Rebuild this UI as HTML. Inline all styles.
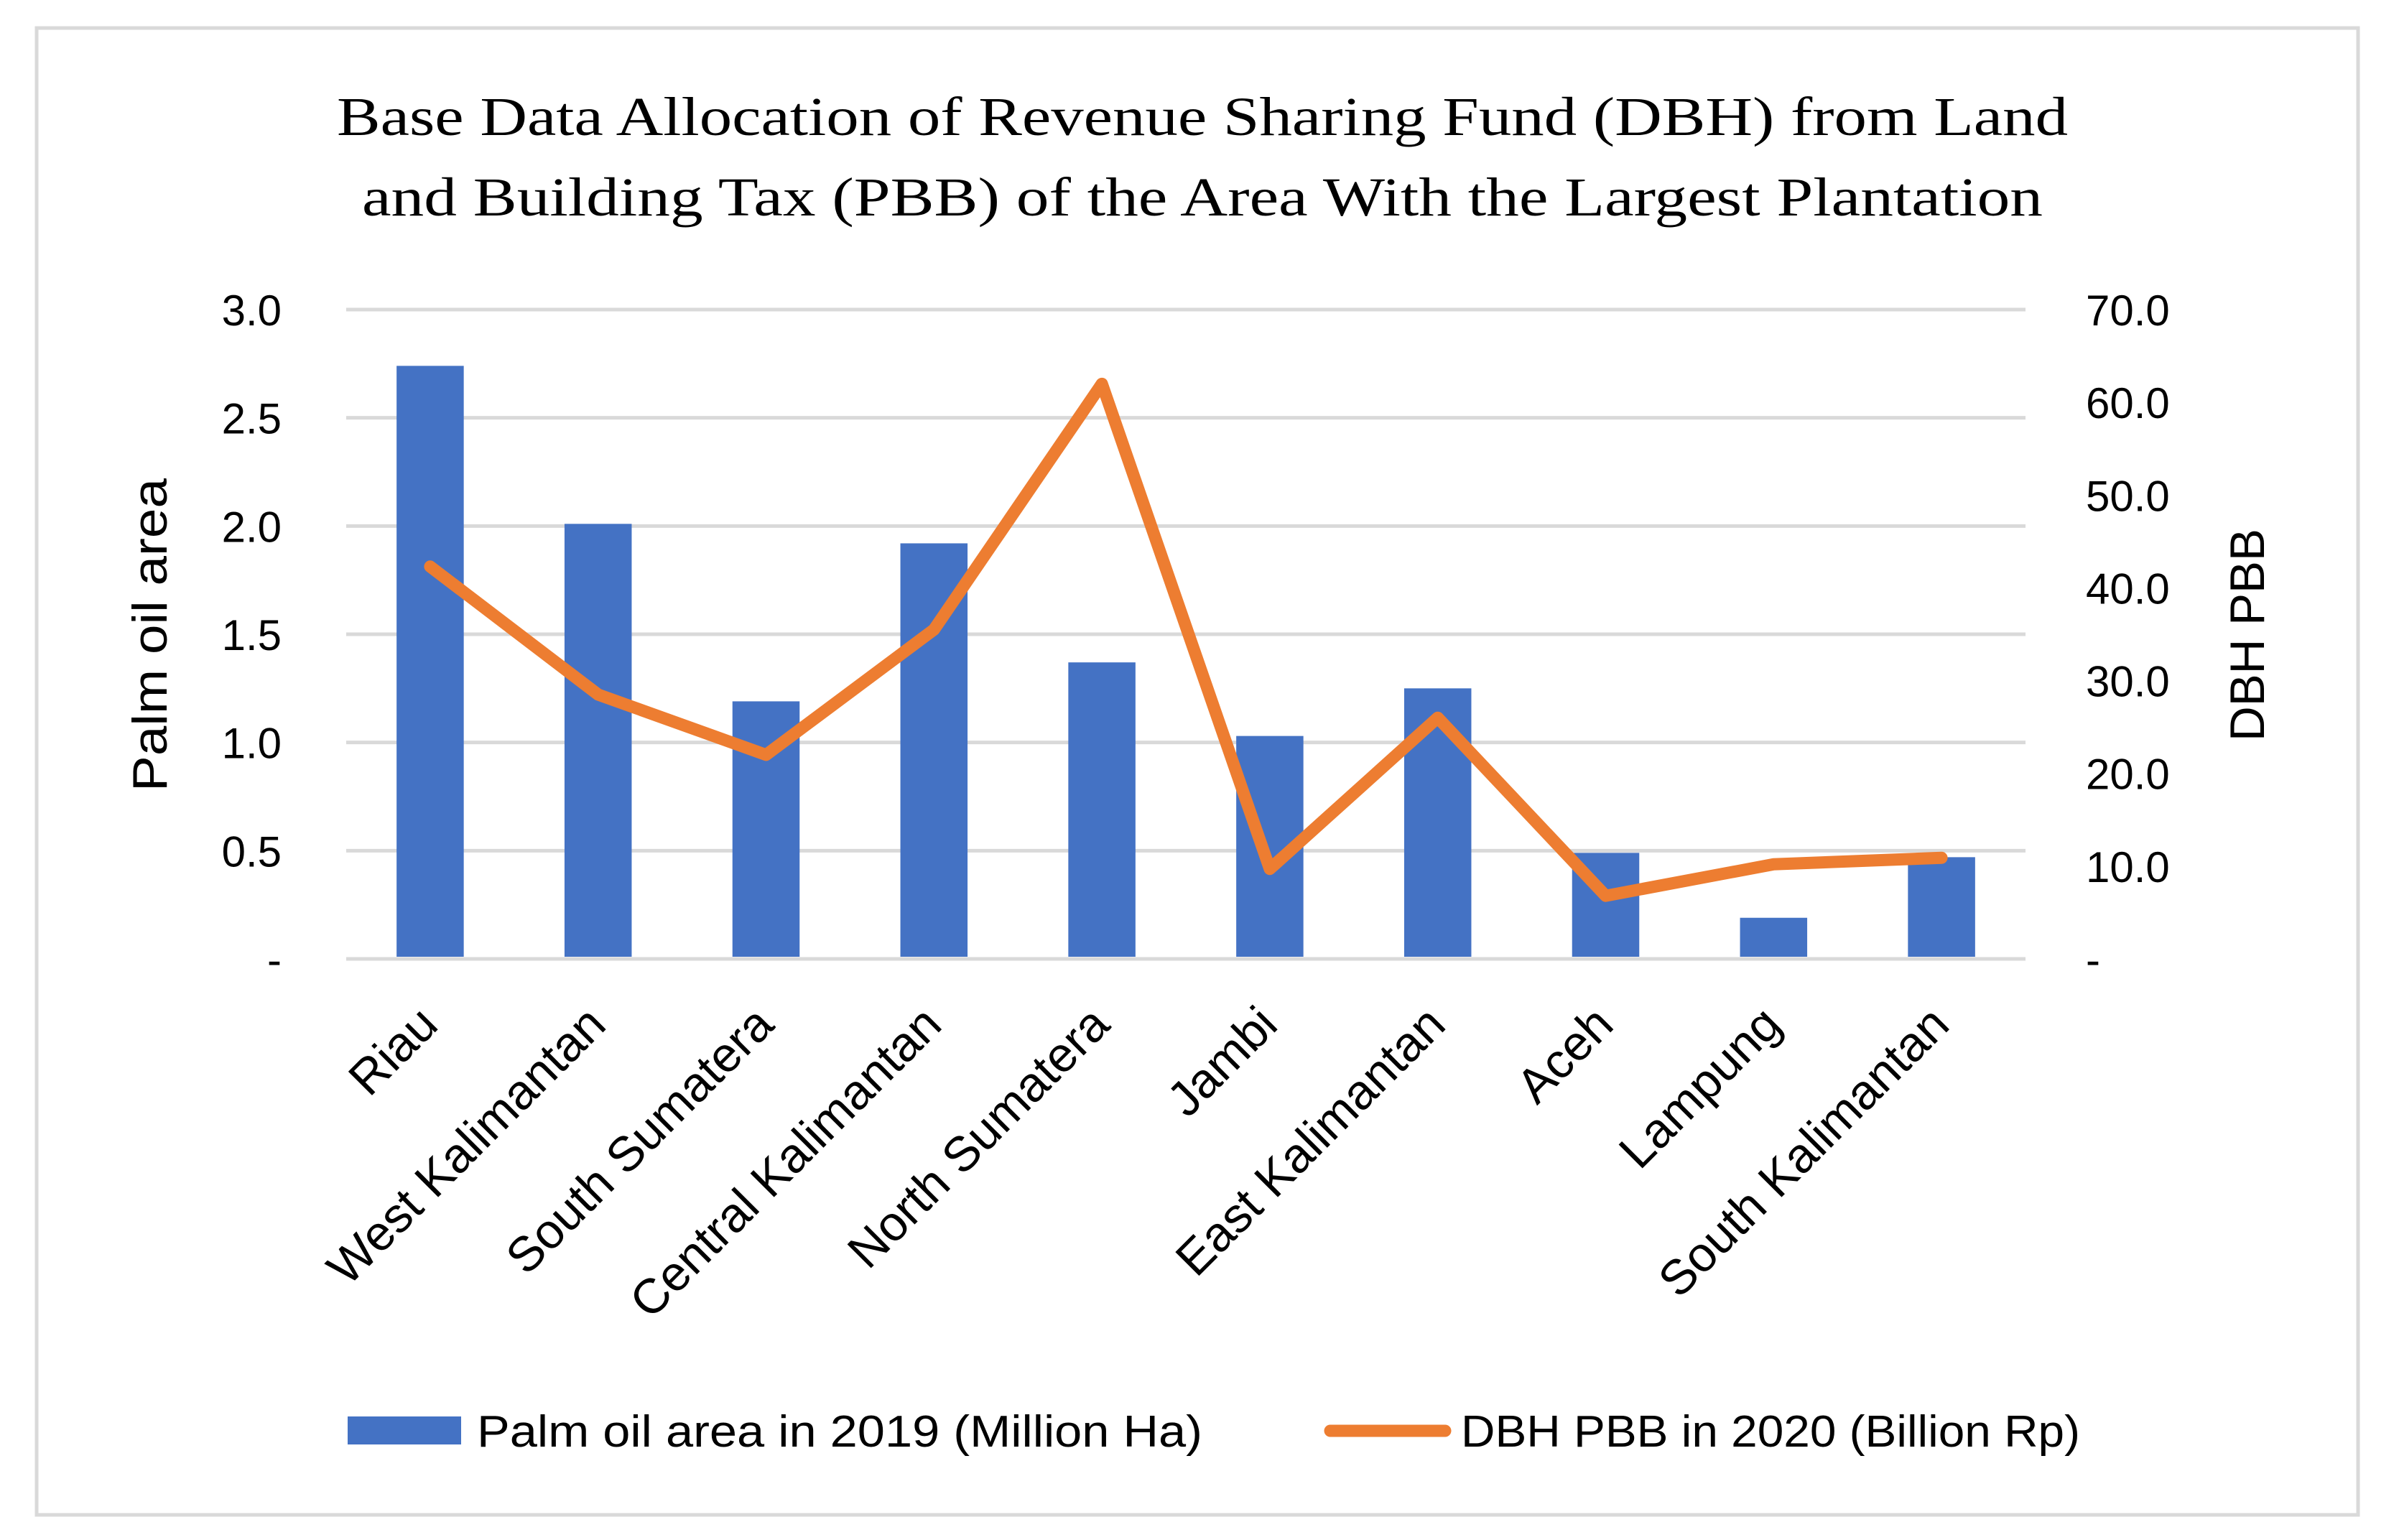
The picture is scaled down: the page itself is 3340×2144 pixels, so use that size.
<!DOCTYPE html>
<html><head><meta charset="utf-8"><style>
html,body{margin:0;padding:0;background:#fff}
svg{display:block}
text{font-family:"Liberation Sans",sans-serif;fill:#000}
</style></head><body>
<svg id="chart" width="3340" height="2144" viewBox="0 0 3340 2144" xmlns="http://www.w3.org/2000/svg">
<rect x="51" y="39" width="3232" height="2070" fill="#fff" stroke="#d9d9d9" stroke-width="5"/>
<text x="1674" y="188" text-anchor="middle" font-size="76" textLength="2410" lengthAdjust="spacingAndGlyphs" style="font-family:'Liberation Serif',serif">Base Data Allocation of Revenue Sharing Fund (DBH) from Land</text>
<text x="1674" y="300" text-anchor="middle" font-size="76" textLength="2340" lengthAdjust="spacingAndGlyphs" style="font-family:'Liberation Serif',serif">and Building Tax (PBB) of the Area With the Largest Plantation</text>
<g id="grid"></g>
<g id="bars"></g>
<g id="line"></g>
<g id="axes"></g>
<text transform="translate(232,884) rotate(-90)" text-anchor="middle" font-size="68" textLength="436" lengthAdjust="spacingAndGlyphs">Palm oil area</text>
<text transform="translate(3152,884) rotate(-90)" text-anchor="middle" font-size="68" textLength="296" lengthAdjust="spacingAndGlyphs">DBH PBB</text>
<g>
<rect x="484" y="1972" width="158" height="39" fill="#4472c4"/>
<text x="664" y="2014" font-size="62" textLength="1010" lengthAdjust="spacingAndGlyphs">Palm oil area in 2019 (Million Ha)</text>
<line x1="1852" y1="1992" x2="2012" y2="1992" stroke="#ed7d31" stroke-width="17" stroke-linecap="round"/>
<text x="2034" y="2014" font-size="62" textLength="862" lengthAdjust="spacingAndGlyphs">DBH PBB in 2020 (Billion Rp)</text>
</g>
</svg>
<script>
const categories = ["Riau","West Kalimantan","South Sumatera","Central Kalimantan","North Sumatera","Jambi","East Kalimantan","Aceh","Lampung","South Kalimantan"];
const palmArea = [2.74, 2.01, 1.19, 1.92, 1.37, 1.03, 1.25, 0.49, 0.19, 0.47];
const dbhPbb = [42.3, 28.5, 22.0, 35.5, 62.0, 9.7, 26.0, 6.8, 10.2, 10.9];
const leftTicks = [0, 0.5, 1.0, 1.5, 2.0, 2.5, 3.0];
const leftTickLabels = ["-", "0.5", "1.0", "1.5", "2.0", "2.5", "3.0"];
const rightTicks = [0, 10, 20, 30, 40, 50, 60, 70];
const rightTickLabels = ["-", "10.0", "20.0", "30.0", "40.0", "50.0", "60.0", "70.0"];

const NS = "http://www.w3.org/2000/svg";
const X0 = 482, X1 = 2820, Y0 = 1335, Y1 = 431;
const band = (X1 - X0) / categories.length;
function xC(i){ return X0 + band * (i + 0.5); }
function yL(v){ return Y0 - (v / 3.0) * (Y0 - Y1); }
function yR(v){ return Y0 - (v / 70) * (Y0 - Y1); }
function mk(tag, attrs, parent){ const e = document.createElementNS(NS, tag); for (const k in attrs) e.setAttribute(k, attrs[k]); parent.appendChild(e); return e; }

const grid = document.getElementById('grid');
const axes = document.getElementById('axes');
leftTicks.forEach((t, i) => {
  const g = mk('line', {x1: X0, x2: X1, y1: yL(t), y2: yL(t), stroke: '#d9d9d9', 'stroke-width': 5}, grid);
  
  
  const tx = mk('text', {x: 392, y: yL(t) + 22, 'text-anchor': 'end', 'font-size': 60}, axes);
  tx.textContent = leftTickLabels[i];
  
  
});
rightTicks.forEach((t, i) => {
  const tx = mk('text', {x: 2904, y: yR(t) + 22, 'text-anchor': 'start', 'font-size': 60}, axes);
  tx.textContent = rightTickLabels[i];
  
  
});

const bars = document.getElementById('bars');
const bw = band * 0.4;
palmArea.forEach((v, i) => {
  const r = mk('rect', {x: xC(i) - bw / 2, y: yL(v), width: bw, height: Y0 - 3 - yL(v), fill: '#4472c4'}, bars);
  
  
});

const lineG = document.getElementById('line');
const pts = dbhPbb.map((v, i) => xC(i) + ',' + yR(v)).join(' ');
const pl = mk('polyline', {points: pts, fill: 'none', stroke: '#ed7d31', 'stroke-width': 17, 'stroke-linejoin': 'round', 'stroke-linecap': 'round'}, lineG);



categories.forEach((c, i) => {
  const x = xC(i) + 14, y = 1430;
  const tx = mk('text', {x: x, y: y, 'text-anchor': 'end', 'font-size': 68, transform: 'rotate(-45 ' + x + ' ' + y + ')'}, axes);
  tx.textContent = c;
  
  
});
</script>
</body></html>
